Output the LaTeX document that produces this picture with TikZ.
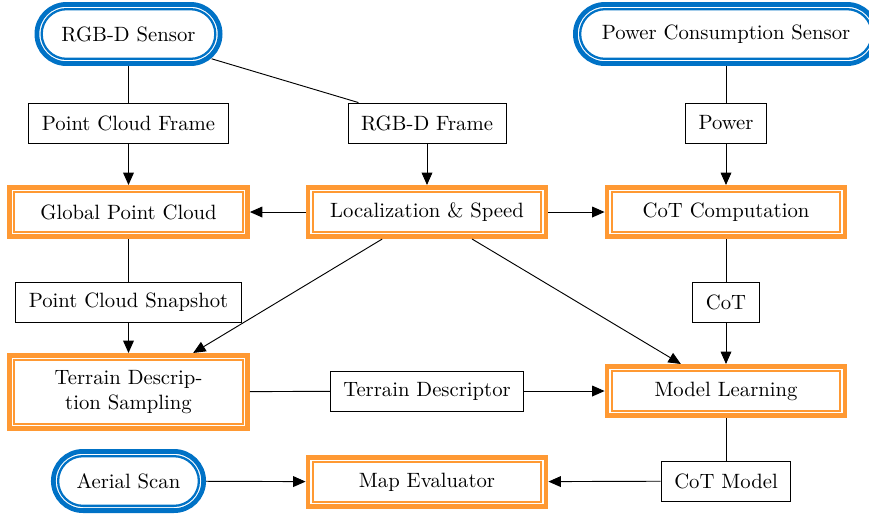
\documentclass[tikz,border=0pt]{standalone}
\usetikzlibrary{arrows.meta,calc}
\definecolor{obord}{RGB}{255,153,51}
\definecolor{bbord}{RGB}{0,114,198}
\tikzset{
  plainbox/.style={draw=black, line width=0.45pt, fill=white, inner xsep=6.3pt, inner ysep=2pt, minimum height=19.3pt},
  framebox/.style={draw=obord, line width=2.3pt, fill=white, minimum width=115pt, minimum height=23.8pt, align=center,
    path picture={\draw[obord, line width=1.1pt]
      ([shift={(2.3pt,2.3pt)}]path picture bounding box.south west) rectangle
      ([shift={(-2.3pt,-2.3pt)}]path picture bounding box.north east);}},
  sensor/.style={rectangle, rounded corners=14.3pt, draw=bbord, line width=2.3pt, fill=white, minimum height=28.6pt,
    path picture={\draw[bbord, line width=1.1pt, rounded corners=12pt]
      ([shift={(2.3pt,2.3pt)}]path picture bounding box.south west) rectangle
      ([shift={(-2.3pt,-2.3pt)}]path picture bounding box.north east);}},
  conn/.style={line width=0.45pt, sharp corners},
  arr/.style={conn, -{Triangle[length=6pt,width=5.2pt]}},
}
\begin{document}
\begin{tikzpicture}[x=0.483pt, y=-0.483pt]
\useasboundingbox (0,0) rectangle (869,514);
% sensors
\node[sensor, minimum width=88.5pt] (rgbd) at (128.5,34) {RGB-D Sensor};
\node[sensor, minimum width=145.5pt] (pcs) at (726,34) {Power Consumption Sensor};
\node[sensor, minimum width=72.6pt] (aerial) at (128.5,481) {Aerial Scan};
% data boxes
\node[plainbox] (pcf) at (128.5,123) {Point Cloud Frame};
\node[plainbox] (rgbdf) at (427,123) {RGB-D Frame};
\node[plainbox] (pow) at (726,123) {Power};
\node[plainbox] (snap) at (128.5,302) {Point Cloud Snapshot};
\node[plainbox] (cot) at (726,302) {CoT};
\node[plainbox] (td) at (427,391) {Terrain Descriptor};
\node[plainbox] (cotm) at (726,481) {CoT Model};
% processes
\node[framebox] (gpc) at (128.5,212) {Global Point Cloud};
\node[framebox] (loc) at (427,212) {Localization \& Speed};
\node[framebox] (cotc) at (726,212) {CoT Computation};
\node[framebox, minimum height=35.4pt] (tds) at (128.5,392) {Terrain Descrip-\\tion Sampling};
\node[framebox] (ml) at (726,391) {Model Learning};
\node[framebox] (me) at (427,482) {Map Evaluator};
% connectors
\draw[conn] (rgbd) -- (pcf);
\draw[arr] (pcf) -- (gpc);
\draw[conn, shorten <=-5.5pt] (rgbd) -- (rgbdf);
\draw[arr] (rgbdf) -- (loc);
\draw[conn] (pcs) -- (pow);
\draw[arr] (pow) -- (cotc);
\draw[arr] (loc) -- (gpc);
\draw[arr] (loc) -- (cotc);
\draw[conn] (gpc) -- (snap);
\draw[arr] (snap) -- (tds);
\draw[arr] (loc) -- (tds);
\draw[arr] (loc) -- (ml);
\draw[conn] (cotc) -- (cot);
\draw[arr] (cot) -- (ml);
\draw[conn] (tds) -- (td);
\draw[arr] (td) -- (ml);
\draw[conn] (ml) -- (cotm);
\draw[arr] (cotm) -- (me);
\draw[arr] (aerial) -- (me);
\end{tikzpicture}
\end{document}
